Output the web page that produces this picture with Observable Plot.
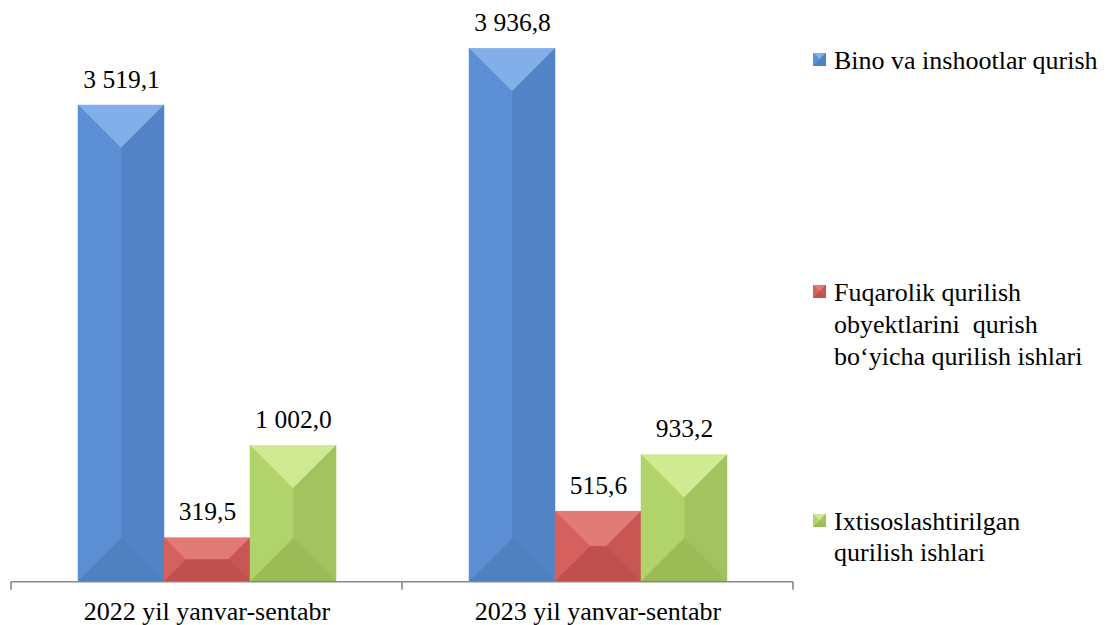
<!DOCTYPE html>
<html><head><meta charset="utf-8">
<script src="https://cdn.jsdelivr.net/npm/d3@7"></script>
<script src="https://cdn.jsdelivr.net/npm/@observablehq/plot@0.6"></script>
<style>
body{margin:0;background:#fff;}
#wrap{position:relative;width:1107px;height:625px;font-family:'Liberation Serif',serif;}
#wrap svg{position:absolute;left:0;top:0;}
#wrap svg text{font-family:'Liberation Serif',serif;}
.leg{position:absolute;left:813px;font-family:'Liberation Serif',serif;font-size:26px;line-height:31.7px;color:#000;white-space:nowrap;}
.leg svg{position:absolute;left:0;}
.leg .lt{position:absolute;left:21px;top:0;font-family:'Liberation Serif',serif;}
</style></head><body><div id="wrap"></div>
<script>
const periods = ["2022 yil yanvar-sentabr", "2023 yil yanvar-sentabr"];
const series = [
  "Bino va inshootlar qurish",
  "Fuqarolik qurilish obyektlarini qurish bo‘yicha qurilish ishlari",
  "Ixtisoslashtirilgan qurilish ishlari"
];
const legendLines = [
  ["Bino va inshootlar qurish"],
  ["Fuqarolik qurilish", "obyektlarini\u00a0 qurish", "bo‘yicha qurilish ishlari"],
  ["Ixtisoslashtirilgan", "qurilish ishlari"]
];
const values2022 = [3519.1, 319.5, 1002.0];
const values2023 = [3936.8, 515.6, 933.2];

const colors = ["#5588CC", "#CC5855", "#A5C662"];
const shades = [
  {top: "#82AEEA", left: "#5B8ED5", right: "#5283C6", bottom: "#4F80C0"},
  {top: "#E27B77", left: "#D6605D", right: "#C85653", bottom: "#C0504D"},
  {top: "#D0EA92", left: "#B0D36C", right: "#A2C35F", bottom: "#9BBB57"}
];
const legendTops = [44.7, 277.4, 505.7];

const data = [values2022, values2023].flatMap((vals, i) =>
  vals.map((v, j) => ({period: periods[i], series: series[j], value: v})));

const fmt = d3.formatLocale({decimal: ",", thousands: " ", grouping: [3]}).format(",.1f");

const plot = Plot.plot({
  width: 1107, height: 625,
  marginLeft: 11, marginRight: 314, marginTop: 40, marginBottom: 44,
  style: {fontFamily: "'Liberation Serif', serif", fontSize: "26px", color: "#000", background: "transparent", overflow: "visible"},
  fx: {domain: periods, padding: 0, label: null, tickSize: 0, tickPadding: 20, axis: "bottom"},
  x: {domain: series, axis: null, paddingInner: 0, paddingOuter: 0.75},
  y: {domain: [0, 4000], axis: null},
  color: {domain: series, range: colors},
  marks: [
    Plot.barY(data, {fx: "period", x: "series", y: "value", fill: "series"}),
    Plot.text(data, {fx: "period", x: "series", y: "value", text: d => fmt(d.value), dy: -26, fontSize: 25.5, fill: "#000"})
  ]
});
document.getElementById("wrap").appendChild(plot);

function bevel(g, x, y, w, h, s) {
  const d = Math.min(w, h) / 2;
  const TL = [x, y], TR = [x + w, y], BR = [x + w, y + h], BL = [x, y + h];
  const P1 = [x + d, y + d], P2 = [x + w - d, y + d], P3 = [x + w - d, y + h - d], P4 = [x + d, y + h - d];
  const faces = [[[TL, TR, P2, P1], s.top], [[TR, BR, P3, P2], s.right], [[BR, BL, P4, P3], s.bottom], [[BL, TL, P1, P4], s.left]];
  for (const [pts, c] of faces) {
    g.append("polygon").attr("points", pts.map(p => p.join(",")).join(" ")).attr("fill", c).attr("stroke", c).attr("stroke-width", 0.5);
  }
}

const svg = d3.select(plot);
svg.selectAll("text").attr("font-family", "Liberation Serif");
svg.selectAll('g[aria-label="bar"] rect').each(function() {
  const r = d3.select(this);
  const x = +r.attr("x"), y = +r.attr("y"), w = +r.attr("width"), h = +r.attr("height");
  const fill = (r.attr("fill") || "").toUpperCase();
  const k = Math.max(0, colors.indexOf(fill));
  const g = d3.select(this.parentNode);
  bevel(g, x, y, w, h, shades[k]);
});

const fxs = plot.scale("fx");
const ys = plot.scale("y");
const y0 = ys.apply(0) + 0.8;
const x0 = fxs.apply(periods[0]);
const step = fxs.step || fxs.bandwidth;
const ax = svg.append("g").attr("stroke", "#878787").attr("stroke-width", 1.6).attr("fill", "none");
ax.append("line").attr("x1", x0).attr("x2", x0 + step * periods.length).attr("y1", y0).attr("y2", y0);
for (let i = 0; i <= periods.length; i++) {
  ax.append("line").attr("x1", x0 + step * i).attr("x2", x0 + step * i).attr("y1", y0).attr("y2", y0 + 8);
}

const wrap = d3.select("#wrap");
legendLines.forEach((lines, i) => {
  const item = wrap.append("div").attr("class", "leg").style("top", legendTops[i] + "px");
  const sw = item.append("svg").attr("width", 13).attr("height", 13).style("top", "8px");
  sw.append("rect").attr("width", 13).attr("height", 13).attr("fill", colors[i]);
  bevel(sw, 0, 0, 13, 13, shades[i]);
  item.append("div").attr("class", "lt").html(lines.join("<br>"));
});
</script></body></html>
